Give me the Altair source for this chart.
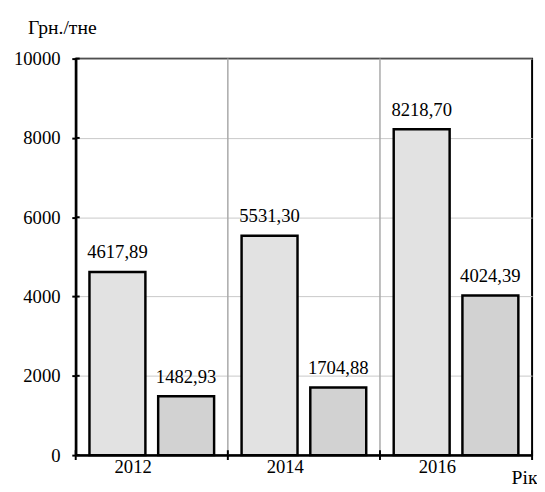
import altair as alt
import pandas as pd

years = ["2012", "2014", "2016"]
series_names = ["A", "B"]
values_a = [4617.89, 5531.30, 8218.70]
values_b = [1482.93, 1704.88, 4024.39]
y_ticks = [0, 2000, 4000, 6000, 8000, 10000]

rows = []
for i, yr in enumerate(years):
    for s, vals in zip(series_names, [values_a, values_b]):
        v = vals[i]
        rows.append({"year": yr, "series": s, "value": v,
                     "label": f"{v:.2f}".replace(".", ",")})
df = pd.DataFrame(rows)

W, H = 465, 404
FONT = "Liberation Serif"

xscale = alt.Scale(paddingInner=0, paddingOuter=0)
xoff = alt.XOffset("series:N", scale=alt.Scale(paddingInner=0.186, paddingOuter=0.2))
yscale = alt.Scale(domain=[0, 10000], nice=False)

bars = alt.Chart(df).mark_bar(stroke="black", strokeWidth=2.5).encode(
    x=alt.X("year:N", scale=xscale,
            axis=alt.Axis(title="Рік", labelAngle=0, ticks=False, domain=True,
                          domainColor="black", domainWidth=2.5,
                          labelFont=FONT, labelFontSize=19, labelColor="black",
                          labelPadding=12, titleFont=FONT, titleFontSize=20,
                          titleFontWeight="normal", titleColor="black",
                          titleAlign="right", titleX=W + 5, titleY=13,
                          titleBaseline="top")),
    xOffset=xoff,
    y=alt.Y("value:Q", scale=yscale,
            axis=alt.Axis(title="Грн./тне", values=y_ticks, format="d",
                          grid=True, gridColor="#c8c8c8", gridWidth=1,
                          domainColor="black", domainWidth=2.5,
                          tickColor="black", tickWidth=2, tickSize=4,
                          labelFont=FONT, labelFontSize=19, labelColor="black",
                          labelPadding=12, titleFont=FONT, titleFontSize=20,
                          titleFontWeight="normal", titleColor="black",
                          titleAngle=0, titleAlign="left", titleBaseline="middle",
                          titleX=-49, titleY=-32)),
    color=alt.Color("series:N", scale=alt.Scale(domain=series_names,
                                                range=["#e2e2e2", "#d2d2d2"]),
                    legend=None),
)

labels = alt.Chart(df).mark_text(font=FONT, fontSize=19, baseline="alphabetic",
                                 dy=-14, color="black").encode(
    x=alt.X("year:N", scale=xscale),
    xOffset=xoff,
    y=alt.Y("value:Q", scale=yscale),
    text="label:N",
)

ydf = pd.DataFrame({"year": years})
dividers = alt.Chart(pd.DataFrame({"year": years[1:]})).mark_rule(
    color="#a8a8a8", strokeWidth=1.5).encode(
    x=alt.X("year:N", bandPosition=0, scale=xscale),
)

xticks_start = alt.Chart(ydf).mark_rule(color="black", strokeWidth=2).encode(
    x=alt.X("year:N", bandPosition=0, scale=xscale),
    y=alt.value(H - 5), y2=alt.value(H + 5),
)
xticks_end = alt.Chart(pd.DataFrame({"year": years[-1:]})).mark_rule(
    color="black", strokeWidth=2).encode(
    x=alt.X("year:N", bandPosition=1, scale=xscale),
    y=alt.value(H - 5), y2=alt.value(H + 5),
)
yticks_in = alt.Chart(pd.DataFrame({"v": y_ticks})).mark_rule(
    color="black", strokeWidth=2).encode(
    y=alt.Y("v:Q", scale=yscale),
    x=alt.value(0), x2=alt.value(4),
)

chart = alt.layer(dividers, bars, labels, xticks_start, xticks_end, yticks_in).properties(
    width=W, height=H,
    background="white",
    padding={"left": 5, "top": 5, "right": 0, "bottom": 0},
).configure_view(stroke="black", strokeWidth=2)

chart.save("out.html", embed_options={"renderer": "svg", "actions": False})
